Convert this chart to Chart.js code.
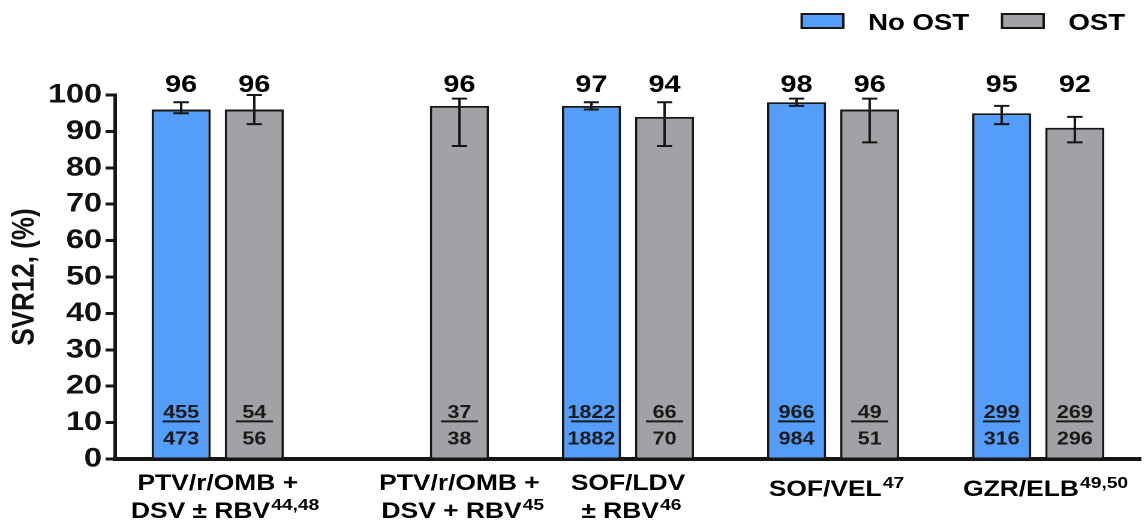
<!DOCTYPE html>
<html><head><meta charset="utf-8">
<script src="https://cdn.jsdelivr.net/npm/chart.js@4.4.1/dist/chart.umd.min.js"></script>
<style>
html,body{margin:0;padding:0;background:#fff;overflow:hidden;width:1148px;height:531px;}
#wrap{position:absolute;left:0;top:0;width:957px;height:531px;transform:scaleX(1.19958);transform-origin:0 0;}
</style></head><body>
<div id="wrap"><canvas id="c"></canvas></div>
<script>
// ---- data ----
const categories = ['PTV/r/OMB + DSV ± RBV', 'PTV/r/OMB + DSV + RBV', 'SOF/LDV ± RBV', 'SOF/VEL', 'GZR/ELB'];
// label lines: [main text, superscript]
const categoryLines = [
  [['PTV/r/OMB +', ''], ['DSV ± RBV', '44,48']],
  [['PTV/r/OMB +', ''], ['DSV + RBV', '45']],
  [['SOF/LDV', ''], ['± RBV', '46']],
  [['SOF/VEL', '47']],
  [['GZR/ELB', '49,50']]
];
const seriesNames = ['No OST', 'OST'];
const noOstSvr = [96, null, 97, 98, 95];
const ostSvr = [96, 97, 94, 96, 91];
const noOstLabel = ['96', null, '97', '98', '95'];
const ostLabel = ['96', '96', '94', '96', '92'];
const noOstErrLow = [95, null, 96, 97, 92];
const noOstErrHigh = [98, null, 98, 99, 97];
const ostErrLow = [92, 86, 86, 87, 87];
const ostErrHigh = [100, 99, 98, 99, 94];
const noOstNum = ['455', null, '1822', '966', '299'];
const noOstDen = ['473', null, '1882', '984', '316'];
const ostNum = ['54', '37', '66', '49', '269'];
const ostDen = ['56', '38', '70', '51', '296'];
const yTickStep = 10;
const yMin = 0, yMax = 100;
const yTitle = 'SVR12, (%)';

const FONT = "'Liberation Sans', Arial, sans-serif";
const INK = '#161616';
const BLUE = '#549df9';
const GRAY = '#a2a2a6';

const overlay = {
  id: 'overlay',
  afterDatasetsDraw(chart) {
    const ctx = chart.ctx, ys = chart.scales.y, area = chart.chartArea;
    const series = [
      {label: noOstLabel, lo: noOstErrLow, hi: noOstErrHigh, num: noOstNum, den: noOstDen},
      {label: ostLabel, lo: ostErrLow, hi: ostErrHigh, num: ostNum, den: ostDen}
    ];
    ctx.save();
    series.forEach((s, di) => {
      const meta = chart.getDatasetMeta(di);
      meta.data.forEach((bar, i) => {
        if (chart.data.datasets[di].data[i] == null) return;
        const x = bar.x;
        // error bar
        const yl = ys.getPixelForValue(s.lo[i]), yh = ys.getPixelForValue(s.hi[i]);
        ctx.strokeStyle = INK; ctx.lineWidth = 2;
        ctx.beginPath();
        ctx.moveTo(x, yl); ctx.lineTo(x, yh);
        ctx.moveTo(x - 6.4, yl); ctx.lineTo(x + 6.4, yl);
        ctx.moveTo(x - 6.4, yh); ctx.lineTo(x + 6.4, yh);
        ctx.stroke();
        // value label above
        ctx.fillStyle = '#000';
        ctx.font = 'bold 24px ' + FONT;
        ctx.textAlign = 'center'; ctx.textBaseline = 'alphabetic';
        ctx.fillText(s.label[i], x, area.top - 3);
        // fraction n/N
        const lineY = ys.getPixelForValue(10) - 1.2;
        ctx.font = 'bold 18px ' + FONT;
        ctx.fillStyle = '#1a1a1a';
        ctx.fillText(s.num[i], x, lineY - 3.2);
        ctx.fillText(s.den[i], x, lineY + 23.3);
        const w = Math.max(31, ctx.measureText(s.num[i]).width - 6);
        ctx.lineWidth = 2; ctx.strokeStyle = '#1a1a1a';
        ctx.beginPath(); ctx.moveTo(x - w / 2, lineY); ctx.lineTo(x + w / 2, lineY); ctx.stroke();
      });
    });
    ctx.restore();
  },
  afterDraw(chart) {
    const ctx = chart.ctx, area = chart.chartArea;
    ctx.save();
    ctx.fillStyle = '#000';
    ctx.textBaseline = 'alphabetic';
    categoryLines.forEach((lines, i) => {
      const xs = [];
      chart.data.datasets.forEach((ds, di) => {
        if (ds.data[i] != null) xs.push(chart.getDatasetMeta(di).data[i].x);
      });
      const cx = xs.reduce((a, b) => a + b, 0) / xs.length;
      lines.forEach((ln, li) => {
        const [main, sup] = ln;
        const base = lines.length === 1 ? area.bottom + 37 : area.bottom + 31 + li * 28;
        ctx.font = 'bold 22px ' + FONT;
        const mw = ctx.measureText(main).width;
        ctx.font = 'bold 16px ' + FONT;
        const sw = sup ? ctx.measureText(sup).width + 1 : 0;
        const start = cx - mw / 2 - sw * 0.35;
        ctx.textAlign = 'left';
        ctx.font = 'bold 22px ' + FONT;
        ctx.fillText(main, start, base);
        if (sup) {
          ctx.font = 'bold 16px ' + FONT;
          ctx.fillText(sup, start + mw + 1, base - 8);
        }
      });
    });
    // legend
    const items = [[seriesNames[0], BLUE, 668.3], [seriesNames[1], GRAY, 835.3]];
    items.forEach(([name, col, bx]) => {
      ctx.fillStyle = col;
      ctx.fillRect(bx, 14, 34.7, 14);
      ctx.strokeStyle = INK; ctx.lineWidth = 2;
      ctx.strokeRect(bx, 14, 34.7, 14);
      ctx.fillStyle = '#000';
      ctx.font = 'bold 23px ' + FONT;
      ctx.textAlign = 'left';
      ctx.fillText(name, bx + 55.3, 30);
    });
    ctx.restore();
  }
};

new Chart(document.getElementById('c'), {
  type: 'bar',
  data: {
    labels: categories,
    datasets: [
      {label: seriesNames[0], data: noOstSvr, backgroundColor: BLUE, borderColor: INK, borderWidth: 2,
       categoryPercentage: 0.713, barPercentage: 0.808},
      {label: seriesNames[1], data: ostSvr, backgroundColor: GRAY, borderColor: INK, borderWidth: 2,
       categoryPercentage: 0.713, barPercentage: 0.808}
    ]
  },
  options: {
    responsive: true,
    maintainAspectRatio: false,
    devicePixelRatio: 2,
    animation: false,
    layout: {padding: {top: 95, right: 6, left: 0, bottom: 0}},
    plugins: {legend: {display: false}, tooltip: {enabled: false}},
    scales: {
      x: {
        type: 'category',
        offset: true,
        grid: {display: false},
        border: {display: true, color: INK, width: 4},
        ticks: {display: false},
        afterFit: s => { s.height = 72; }
      },
      y: {
        min: yMin, max: yMax,
        ticks: {stepSize: yTickStep, color: '#111', font: {family: FONT, size: 27, weight: 'bold'}, padding: 3},
        grid: {display: true, drawOnChartArea: false, drawTicks: true, tickLength: 8, lineWidth: 3, color: INK},
        border: {display: true, color: INK, width: 3},
        title: {display: true, text: yTitle, color: '#111', font: {family: FONT, size: 26, weight: 'bold'}, padding: {top: 5, bottom: 0}},
        afterFit: s => { s.width = 96; }
      }
    }
  },
  plugins: [overlay]
});
</script>
</body></html>
